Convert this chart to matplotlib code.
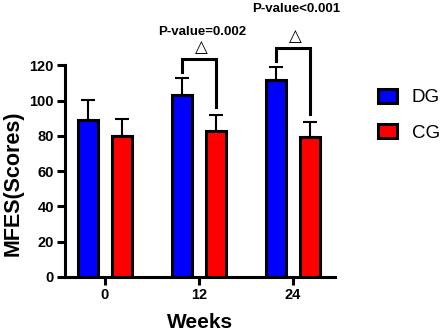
import numpy as np
import matplotlib
matplotlib.use("Agg")
import matplotlib.pyplot as plt
from matplotlib.patches import Patch

plt.rcParams['font.family'] = ['Liberation Sans', 'DejaVu Sans']

weeks = ["0", "12", "24"]
dg_mean = [89, 103, 111.5]
dg_sd = [11.3, 9.8, 7.7]
cg_mean = [80, 83, 79.5]
cg_sd = [9.6, 8.8, 8.5]
p_labels = ["", "P-value=0.002", "P-value<0.001"]
p_gap = [0, 15.8, 22]   # text height above bracket top

fig = plt.figure(figsize=(4.46, 3.34), dpi=100)
ax = fig.add_axes([65/446, 1 - 277/334, 270/446, (277 - 65.3)/334])

x = np.arange(len(weeks))
off = 0.18
w = 0.21
lw = 2.2

ax.bar(x - off, dg_mean, w, color="#0000ff", edgecolor="black", linewidth=lw, zorder=3)
ax.bar(x + off, cg_mean, w, color="#ff0000", edgecolor="black", linewidth=lw, zorder=3)
ax.errorbar(x - off, dg_mean, yerr=[np.zeros(3), dg_sd], fmt="none", ecolor="black",
            elinewidth=1.5, capsize=5, capthick=1.5, zorder=2)
ax.errorbar(x + off, cg_mean, yerr=[np.zeros(3), cg_sd], fmt="none", ecolor="black",
            elinewidth=1.5, capsize=5, capthick=1.5, zorder=2)

# significance brackets
for i in [1, 2]:
    lo_l = dg_mean[i] + dg_sd[i] + 3.5
    lo_r = cg_mean[i] + cg_sd[i] + 4.5
    top = max(dg_mean[i] + dg_sd[i], cg_mean[i] + cg_sd[i]) + 10.5
    ax.plot([x[i] - off, x[i] - off, x[i] + off, x[i] + off],
            [lo_l, top, top, lo_r], color="black", lw=lw, clip_on=False,
            solid_joinstyle="miter")
    ax.text(x[i] + 0.02, top + 7, "\u25b3", ha="center", va="center",
            fontsize=12, family="DejaVu Sans", clip_on=False)
    ax.text(x[i] + 0.03, top + p_gap[i], p_labels[i], ha="center", va="center",
            fontsize=9.5, fontweight="bold", clip_on=False)

ax.set_xlim(-0.4255, 2.447)
ax.set_ylim(0, 120)
ax.set_yticks([0, 20, 40, 60, 80, 100, 120])
ax.set_xticks(x)
ax.set_xticklabels(weeks)
for s in ["top", "right"]:
    ax.spines[s].set_visible(False)
for s in ["left", "bottom"]:
    ax.spines[s].set_linewidth(lw)
ax.tick_params(width=lw, length=6, labelsize=10.5, pad=2)
for lab in ax.get_xticklabels() + ax.get_yticklabels():
    lab.set_fontweight("bold")

ax.set_xlabel("Weeks", fontsize=15, fontweight="bold", labelpad=8)
ax.set_ylabel("MFES(Scores)", fontsize=15.5, fontweight="bold")
ax.yaxis.set_label_coords(-0.152, 0.444)

handles = [Patch(facecolor="#0000ff", edgecolor="black", linewidth=lw),
           Patch(facecolor="#ff0000", edgecolor="black", linewidth=lw)]
fig.legend(handles, ["DG", "CG"], loc="center left", bbox_to_anchor=(378/446, 0.655),
           frameon=False, fontsize=13.5, handlelength=1.0, handleheight=0.8,
           labelspacing=0.95, handletextpad=0.8, borderpad=0, borderaxespad=0)

fig.savefig("out.png", dpi=100)
